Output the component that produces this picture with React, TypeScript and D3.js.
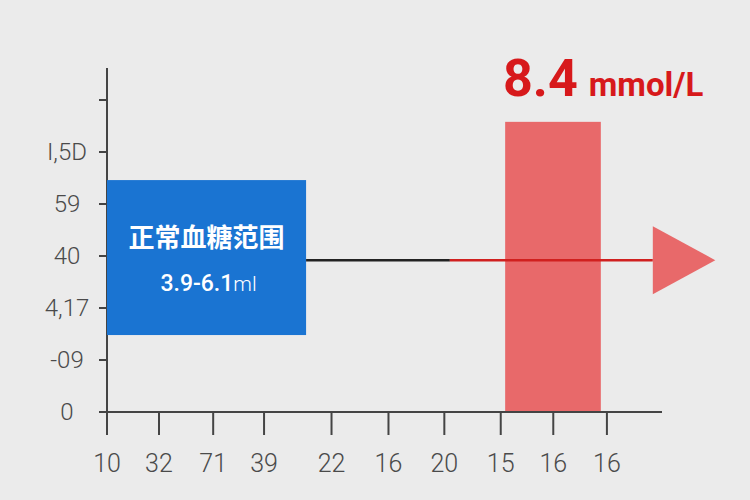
import React from "react";
import * as d3 from "d3";

// ---- data ----
const yTickValues = [6, 5, 4, 3, 2, 1, 0];
const yTickLabels = ["", "I,5D", "59", "40", "4,17", "-09", "0"];
const xTickValues = [0, 9.4, 19.2, 28.4, 40.6, 50.9, 61.0, 71.2, 80.7, 90.4];
const xTickLabels = ["10", "32", "71", "39", "22", "16", "20", "15", "16", "16"];
const normalRange = { x0: 0, x1: 36, y0: 1.48, y1: 4.46 };
const normalTitle = "正常血糖范围";
const normalValue = "3.9-6.1";
const normalUnit = "ml";
const readingBar = { x0: 72, x1: 89.3, top: 5.58 };
const readingValue = "8.4";
const readingUnit = "mmol/L";
const arrowY = 2.92;
const arrowBlackEnd = 62;
const arrowStart = 98.7;
const arrowTip = 110;

const W = 750;
const H = 500;

export default function App() {
  const x = d3.scaleLinear().domain([0, 100]).range([107, 660]);
  const y = d3.scaleLinear().domain([0, 6]).range([412, 100]);
  const sans = "Roboto, 'Noto Sans', sans-serif";
  const cjk = "'Noto Sans CJK SC', sans-serif";
  const ay = y(arrowY);
  const triH = 34;
  const tri = d3.line()([
    [x(arrowStart), ay - triH],
    [x(arrowTip), ay],
    [x(arrowStart), ay + triH],
  ]) + "Z";

  return (
    <svg
      width={W}
      height={H}
      style={{ position: "absolute", left: 0, top: 0 }}
      xmlns="http://www.w3.org/2000/svg"
    >
      <rect width={W} height={H} fill="#ebebeb" />

      {/* red reading bar */}
      <rect
        x={x(readingBar.x0)}
        y={y(readingBar.top)}
        width={x(readingBar.x1) - x(readingBar.x0)}
        height={y(0) - y(readingBar.top)}
        fill="#e8696a"
      />

      {/* axes */}
      <line x1={107} x2={107} y1={68} y2={434} stroke="#444" strokeWidth={2} />
      <line x1={99} x2={662} y1={y(0)} y2={y(0)} stroke="#444" strokeWidth={2} />
      {yTickValues.map((v, i) => (
        <g key={"y" + i}>
          <line x1={99} x2={107} y1={y(v)} y2={y(v)} stroke="#444" strokeWidth={2} />
          <text
            x={67}
            y={y(v)}
            dy="0.35em"
            textAnchor="middle"
            fontFamily={sans}
            fontSize={24}
            fontWeight={300}
            fill="#4a4a4a"
          >
            {yTickLabels[i]}
          </text>
        </g>
      ))}
      {xTickValues.map((v, i) => (
        <g key={"x" + i}>
          <line x1={x(v)} x2={x(v)} y1={y(0)} y2={y(0) + 23} stroke="#444" strokeWidth={2} />
          <text
            x={x(v)}
            y={463}
            dy="0.35em"
            textAnchor="middle"
            fontFamily={sans}
            fontSize={25}
            fontWeight={300}
            fill="#4a4a4a"
          >
            {xTickLabels[i]}
          </text>
        </g>
      ))}

      {/* normal range box */}
      <rect
        x={x(normalRange.x0)}
        y={y(normalRange.y1)}
        width={x(normalRange.x1) - x(normalRange.x0)}
        height={y(normalRange.y0) - y(normalRange.y1)}
        fill="#1a74d2"
      />
      <text
        x={(x(normalRange.x0) + x(normalRange.x1)) / 2}
        y={238}
        dy="0.35em"
        textAnchor="middle"
        fontFamily={cjk}
        fontWeight={700}
        fontSize={26}
        fill="#ffffff"
      >
        {normalTitle}
      </text>
      <text
        x={(x(normalRange.x0) + x(normalRange.x1)) / 2 + 2}
        y={283}
        dy="0.35em"
        textAnchor="middle"
        fontFamily={sans}
        fontWeight={500}
        fontSize={23}
        fill="#ffffff"
      >
        {normalValue}
        <tspan fontWeight={300} fontSize={21}>{normalUnit}</tspan>
      </text>

      {/* arrow line */}
      <line x1={x(normalRange.x1)} x2={x(arrowBlackEnd)} y1={ay} y2={ay} stroke="#222" strokeWidth={2.5} />
      <line x1={x(arrowBlackEnd)} x2={x(arrowStart)} y1={ay} y2={ay} stroke="#d0201f" strokeWidth={2.5} />
      <path d={tri} fill="#e8696a" />

      {/* reading label */}
      <text x={503} y={96} fontFamily={sans} fontWeight={700} fontSize={52} fill="#d7191b">
        {readingValue}
        <tspan dx={11} fontSize={33}>{readingUnit}</tspan>
      </text>
    </svg>
  );
}
